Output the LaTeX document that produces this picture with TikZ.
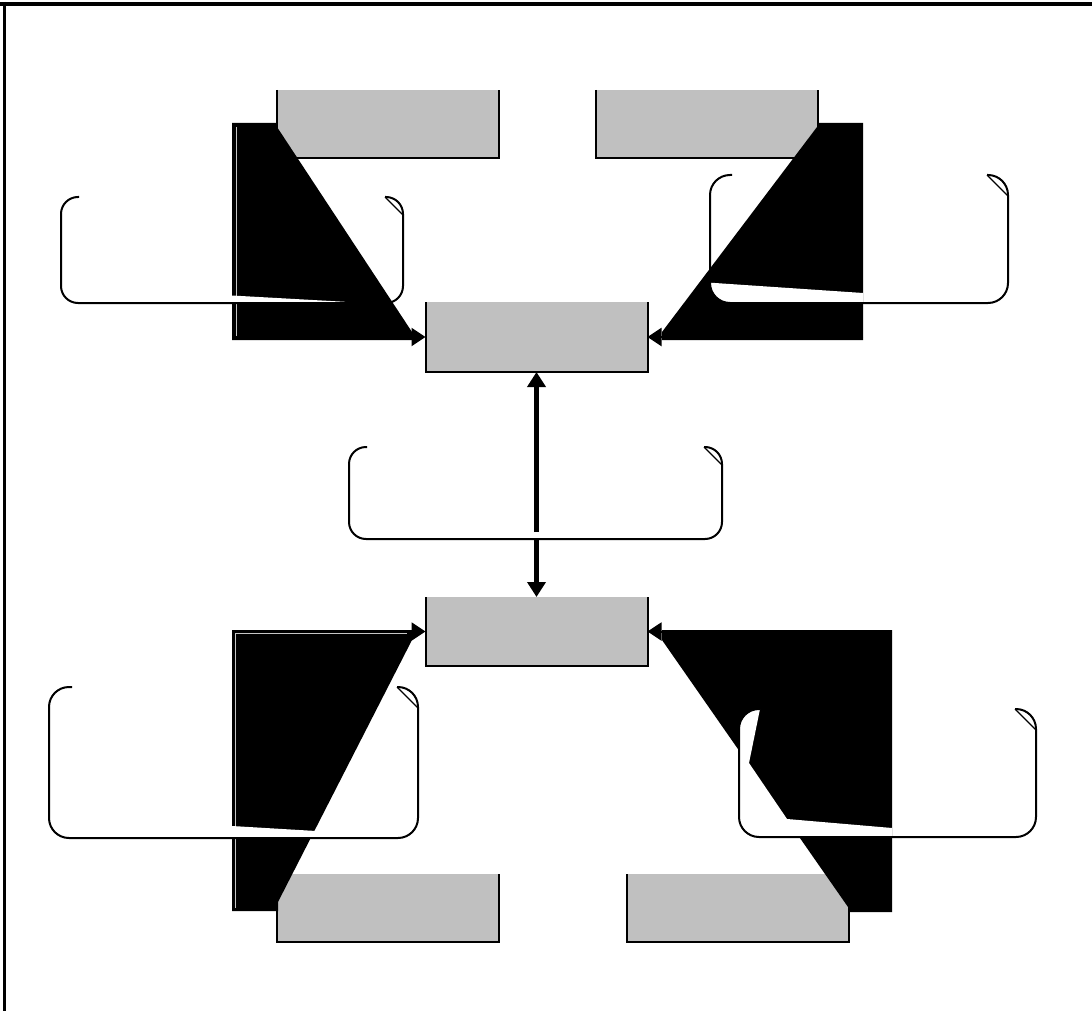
\documentclass[tikz,border=0pt]{standalone}
\usetikzlibrary{arrows.meta}
\definecolor{boxgray}{RGB}{192,192,192}
\begin{document}
\begin{tikzpicture}[x=1pt,y=-1pt,
  graybox/.style={fill=boxgray,draw=none,inner sep=0pt,outer sep=0pt,minimum width=222pt,minimum height=68pt},
  boxedge/.style={line width=2pt},
  blob/.style={fill=black},
  rrect/.style={line width=2pt,rounded corners=#1},
  rrect/.default=18pt,
  fold/.style={line width=1.2pt},
  arr/.style={line width=2pt,-{Triangle[length=14pt,width=18pt]}},
  varr/.style={line width=4.5pt,-{Triangle[length=15pt,width=18pt]}},
  thinline/.style={draw=gray!45,line width=0.8pt}
]
\useasboundingbox (0,0) rectangle (1092,1011);
\fill[white] (0,0) rectangle (1092,1011);
% frame
\draw[line width=4.5pt] (0,4) -- (1092,4);
\draw[line width=3pt] (4.5,2) -- (4.5,1011);

% gray boxes
\node[graybox] (b1) at (388,124) {};
\node[graybox] (b2) at (706.5,124) {};
\node[graybox,minimum height=70pt] (c1) at (536.5,337) {};
\node[graybox,minimum height=69pt] (c2) at (536.5,631.5) {};
\node[graybox] (b3) at (387.5,908) {};
\node[graybox] (b4) at (737.5,908) {};
\foreach \b in {b1,b2,c1,c2,b3,b4}{
  \draw[boxedge] (\b.north west) -- (\b.south west) -- (\b.south east) -- (\b.north east);
}

% black polygons (connector fills)
\fill[blob] (232,123) -- (277,123) -- (277,127) -- (412,332) -- (412,340) -- (232,340) -- cycle;
\fill[blob] (863,123) -- (817,123) -- (817,127) -- (662,332) -- (662,340) -- (863,340) -- cycle;
\fill[blob] (232,630) -- (412,630) -- (412,640) -- (278,902) -- (278,911) -- (232,911) -- cycle;
\fill[blob] (892,630) -- (662,630) -- (662,640) -- (848,907) -- (848,912) -- (892,912) -- cycle;

% thin inner connector lines
\draw[thinline] (236,127) -- (236,336);
\draw[thinline] (665,336) -- (860,336);
\draw[thinline] (235,908) -- (235,633.5) -- (407,633.5);

% white wedges
\fill[white] (232,295.5) -- (345,301.8) -- (232,301.8) -- cycle;
\begin{scope}
  \clip[rounded corners=20pt] (710,175) rectangle (1008,303);
  \fill[white] (700,282) -- (863,293) -- (863,310) -- (700,310) -- cycle;
\end{scope}
\fill[white] (232,826) -- (316,831) -- (313,837) -- (232,837) -- cycle;
\begin{scope}
  \clip[rounded corners=20pt] (739,709) rectangle (1036,837);
  \fill[white] (730,700) -- (760,700) -- (760,709) -- (749,763) -- (787,819) -- (892,828) -- (892,836.8) -- (730,836.8) -- cycle;
\end{scope}

% rounded callout frames (top edge missing)
\draw[rrect=17pt] (79,197) -- (61,197) -- (61,303) -- (403,303) -- (403,197) -- (385,197);
\draw[fold] (385,197) -- (403,215);
\draw[rrect=20pt] (732,175) -- (710,175) -- (710,303) -- (1008,303) -- (1008,175) -- (987,175);
\draw[fold] (987,175) -- (1008,196);
\draw[rrect=17pt] (367,447) -- (349,447) -- (349,539) -- (722,539) -- (722,447) -- (704,447);
\draw[fold] (704,447) -- (722,465);
\draw[rrect=20pt] (72,687) -- (49,687) -- (49,838) -- (418,838) -- (418,687) -- (397,687);
\draw[fold] (397,687) -- (418,708);
\draw[rrect=20pt] (760,709) -- (739,709) -- (739,837) -- (1036,837) -- (1036,709) -- (1015,709);
\draw[fold] (1015,709) -- (1036,730);

% connector arrows
\coordinate (s1) at (232,337);
\coordinate (s2) at (863,337);
\coordinate (s3) at (232,631.5);
\coordinate (s4) at (892,631.5);
\draw[arr] (s1) -- (c1.west);
\draw[arr] (s2) -- (c1.east);
\draw[arr] (s3) -- (c2.west);
\draw[arr] (s4) -- (c2.east);

% vertical double arrow
\coordinate (mu) at (536.5,532);
\coordinate (ml) at (536.5,540);
\draw[varr] (mu) -- (c1.south);
\draw[varr] (ml) -- (c2.north);
\end{tikzpicture}
\end{document}
